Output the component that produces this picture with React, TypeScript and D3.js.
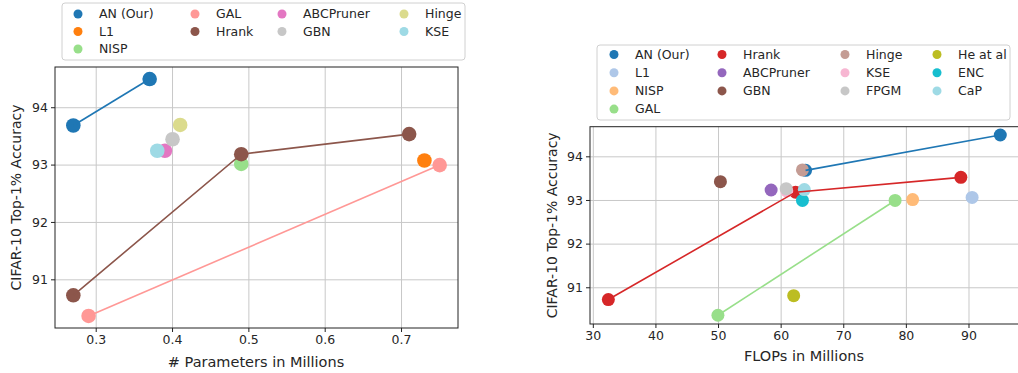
import React from 'react';
import * as d3 from 'd3';

// ---- left panel: accuracy vs parameters (millions)
const leftNames = ['AN (Our)', 'L1', 'NISP', 'GAL', 'Hrank', 'ABCPruner', 'GBN', 'Hinge', 'KSE'];
const leftColors = ['#1f77b4', '#ff7f0e', '#98df8a', '#ff9896', '#8c564b', '#e377c2', '#c7c7c7', '#dbdb8d', '#9edae5'];
const paramsAN: [number, number][] = [[0.27, 93.69], [0.37, 94.5]];
const paramsL1: [number, number][] = [[0.73, 93.08]];
const paramsNISP: [number, number][] = [[0.49, 93.02]];
const paramsGAL: [number, number][] = [[0.29, 90.37], [0.75, 93.0]];
const paramsHrank: [number, number][] = [[0.27, 90.73], [0.49, 93.19], [0.71, 93.54]];
const paramsABC: [number, number][] = [[0.39, 93.25]];
const paramsGBN: [number, number][] = [[0.4, 93.45]];
const paramsHinge: [number, number][] = [[0.41, 93.7]];
const paramsKSE: [number, number][] = [[0.38, 93.25]];
const leftData = [paramsAN, paramsL1, paramsNISP, paramsGAL, paramsHrank, paramsABC, paramsGBN, paramsHinge, paramsKSE];
const leftXTicks = [0.3, 0.4, 0.5, 0.6, 0.7];

// ---- right panel: accuracy vs FLOPs (millions)
const rightNames = ['AN (Our)', 'L1', 'NISP', 'GAL', 'Hrank', 'ABCPruner', 'GBN', 'Hinge', 'KSE', 'FPGM', 'He at al', 'ENC', 'CaP'];
const rightColors = ['#1f77b4', '#aec7e8', '#ffbb78', '#98df8a', '#d62728', '#9467bd', '#8c564b', '#c49c94', '#f7b6d2', '#c7c7c7', '#bcbd22', '#17becf', '#9edae5'];
const flopsAN: [number, number][] = [[63.9, 93.69], [95.0, 94.5]];
const flopsL1: [number, number][] = [[90.5, 93.07]];
const flopsNISP: [number, number][] = [[81.0, 93.02]];
const flopsGAL: [number, number][] = [[49.9, 90.37], [78.2, 93.0]];
const flopsHrank: [number, number][] = [[32.4, 90.73], [62.3, 93.19], [88.7, 93.53]];
const flopsABC: [number, number][] = [[58.4, 93.24]];
const flopsGBN: [number, number][] = [[50.3, 93.43]];
const flopsHinge: [number, number][] = [[63.4, 93.7]];
const flopsKSE: [number, number][] = [[60.9, 93.22]];
const flopsFPGM: [number, number][] = [[60.8, 93.27]];
const flopsHe: [number, number][] = [[62.0, 90.82]];
const flopsENC: [number, number][] = [[63.4, 93.0]];
const flopsCaP: [number, number][] = [[63.7, 93.25]];
const rightData = [flopsAN, flopsL1, flopsNISP, flopsGAL, flopsHrank, flopsABC, flopsGBN, flopsHinge, flopsKSE, flopsFPGM, flopsHe, flopsENC, flopsCaP];
const rightXTicks = [30, 40, 50, 60, 70, 80, 90];

const yTicks = [91, 92, 93, 94];

const FONT = 'DejaVu Sans, sans-serif';
const TXT = '#262626';

// matplotlib-style ncol legend: first columns take the extra entries
const legendSlots = (n: number, ncol: number) => {
  const rows = Math.ceil(n / ncol);
  const extra = n % ncol || ncol;
  const out: { c: number; r: number }[] = [];
  let c = 0, r = 0;
  for (let i = 0; i < n; i++) {
    out.push({ c, r });
    r++;
    const size = c < extra ? rows : rows - 1;
    if (r >= size) { r = 0; c++; }
  }
  return out;
};

type PanelProps = {
  data: [number, number][][];
  colors: string[];
  names: string[];
  x: d3.ScaleLinear<number, number>;
  y: d3.ScaleLinear<number, number>;
  xTicks: number[];
  xFormat: (d: number) => string;
  xLabel: string;
  xLabelX: number;
  xLabelY: number;
  yLabelX: number;
  r: number;
  legend: { left: number; top: number; width: number; height: number; cols: number[]; rowTop: number; rowGap: number };
};

const Panel = ({ data, colors, names, x, y, xTicks, xFormat, xLabel, xLabelX, xLabelY, yLabelX, r, legend }: PanelProps) => {
  const [x0, x1] = x.range();
  const [y1, y0] = y.range();
  const line = d3.line<[number, number]>().x(d => x(d[0])).y(d => y(d[1]));
  const slots = legendSlots(names.length, legend.cols.length);
  return (
    <g>
      {/* grid */}
      {xTicks.map(t => (
        <line key={'gx' + t} x1={x(t)} x2={x(t)} y1={y0} y2={y1} stroke="#c8c8c8" strokeWidth={1} />
      ))}
      {yTicks.map(t => (
        <line key={'gy' + t} x1={x0} x2={x1} y1={y(t)} y2={y(t)} stroke="#c8c8c8" strokeWidth={1} />
      ))}
      {/* points first, connecting lines on top */}
      {data.map((pts, i) => (
        <g key={'p' + i}>
          {pts.map((p, j) => (
            <circle key={j} cx={x(p[0])} cy={y(p[1])} r={r} fill={colors[i]} />
          ))}
        </g>
      ))}
      {data.map((pts, i) =>
        pts.length > 1 ? (
          <path key={'l' + i} d={line(pts) || ''} fill="none" stroke={colors[i]} strokeWidth={1.6} />
        ) : null
      )}
      {/* frame */}
      <rect x={x0} y={y0} width={x1 - x0} height={y1 - y0} fill="none" stroke="#222" strokeWidth={1} />
      {/* ticks */}
      {xTicks.map(t => (
        <g key={'tx' + t} transform={`translate(${x(t)},${y1})`}>
          <line y2={4} stroke="#222" />
          <text y={16} textAnchor="middle" fontSize={12.5} fill={TXT} fontFamily={FONT}>{xFormat(t)}</text>
        </g>
      ))}
      {yTicks.map(t => (
        <g key={'ty' + t} transform={`translate(${x0},${y(t)})`}>
          <line x2={-4} stroke="#222" />
          <text x={-7} dy="0.35em" textAnchor="end" fontSize={12.5} fill={TXT} fontFamily={FONT}>{t}</text>
        </g>
      ))}
      <text x={xLabelX} y={xLabelY} textAnchor="middle" fontSize={14.5} fill={TXT} fontFamily={FONT}>{xLabel}</text>
      <text transform={`translate(${yLabelX},${(y0 + y1) / 2}) rotate(-90)`} textAnchor="middle" fontSize={14} fill={TXT} fontFamily={FONT}>
        CIFAR-10 Top-1% Accuracy
      </text>
      {/* legend */}
      <rect x={legend.left} y={legend.top} width={legend.width} height={legend.height} rx={3} fill="#fff" fillOpacity={0.85} stroke="#d0d0d0" />
      {names.map((n, i) => {
        const s = slots[i];
        const cy = legend.rowTop + s.r * legend.rowGap;
        return (
          <g key={n}>
            <circle cx={legend.cols[s.c]} cy={cy} r={4.5} fill={colors[i]} />
            <text x={legend.cols[s.c] + 21} y={cy} dy="0.35em" fontSize={12.5} fill={TXT} fontFamily={FONT}>{n}</text>
          </g>
        );
      })}
    </g>
  );
};

export default function App() {
  const lx = d3.scaleLinear().domain([0.246, 0.774]).range([55, 458]);
  const ly = d3.scaleLinear().domain([90.16, 94.71]).range([328, 67]);
  const rx = d3.scaleLinear().domain([29.47, 98.1]).range([590, 1019.7]);
  const ry = d3.scaleLinear().domain([90.17, 94.69]).range([324, 126.7]);
  return (
    <div style={{ position: 'absolute', left: 0, top: 0, background: '#fff' }}>
      <svg width={1018} height={373} style={{ display: 'block' }}>
        <rect width={1018} height={373} fill="#fff" />
        <Panel
          data={leftData}
          colors={leftColors}
          names={leftNames}
          x={lx}
          y={ly}
          xTicks={leftXTicks}
          xFormat={d => d3.format('.1f')(d)}
          xLabel="# Parameters in Millions"
          xLabelX={256}
          xLabelY={367}
          yLabelX={21}
          r={7.3}
          legend={{ left: 62, top: 3, width: 403, height: 57, cols: [78, 195, 282, 404], rowTop: 14, rowGap: 17.5 }}
        />
        <Panel
          data={rightData}
          colors={rightColors}
          names={rightNames}
          x={rx}
          y={ry}
          xTicks={rightXTicks}
          xFormat={d => String(d)}
          xLabel="FLOPs in Millions"
          xLabelX={804}
          xLabelY={361}
          yLabelX={557}
          r={6.5}
          legend={{ left: 597, top: 45, width: 413, height: 75, cols: [614, 722, 845, 937], rowTop: 54.5, rowGap: 18.2 }}
        />
      </svg>
    </div>
  );
}
